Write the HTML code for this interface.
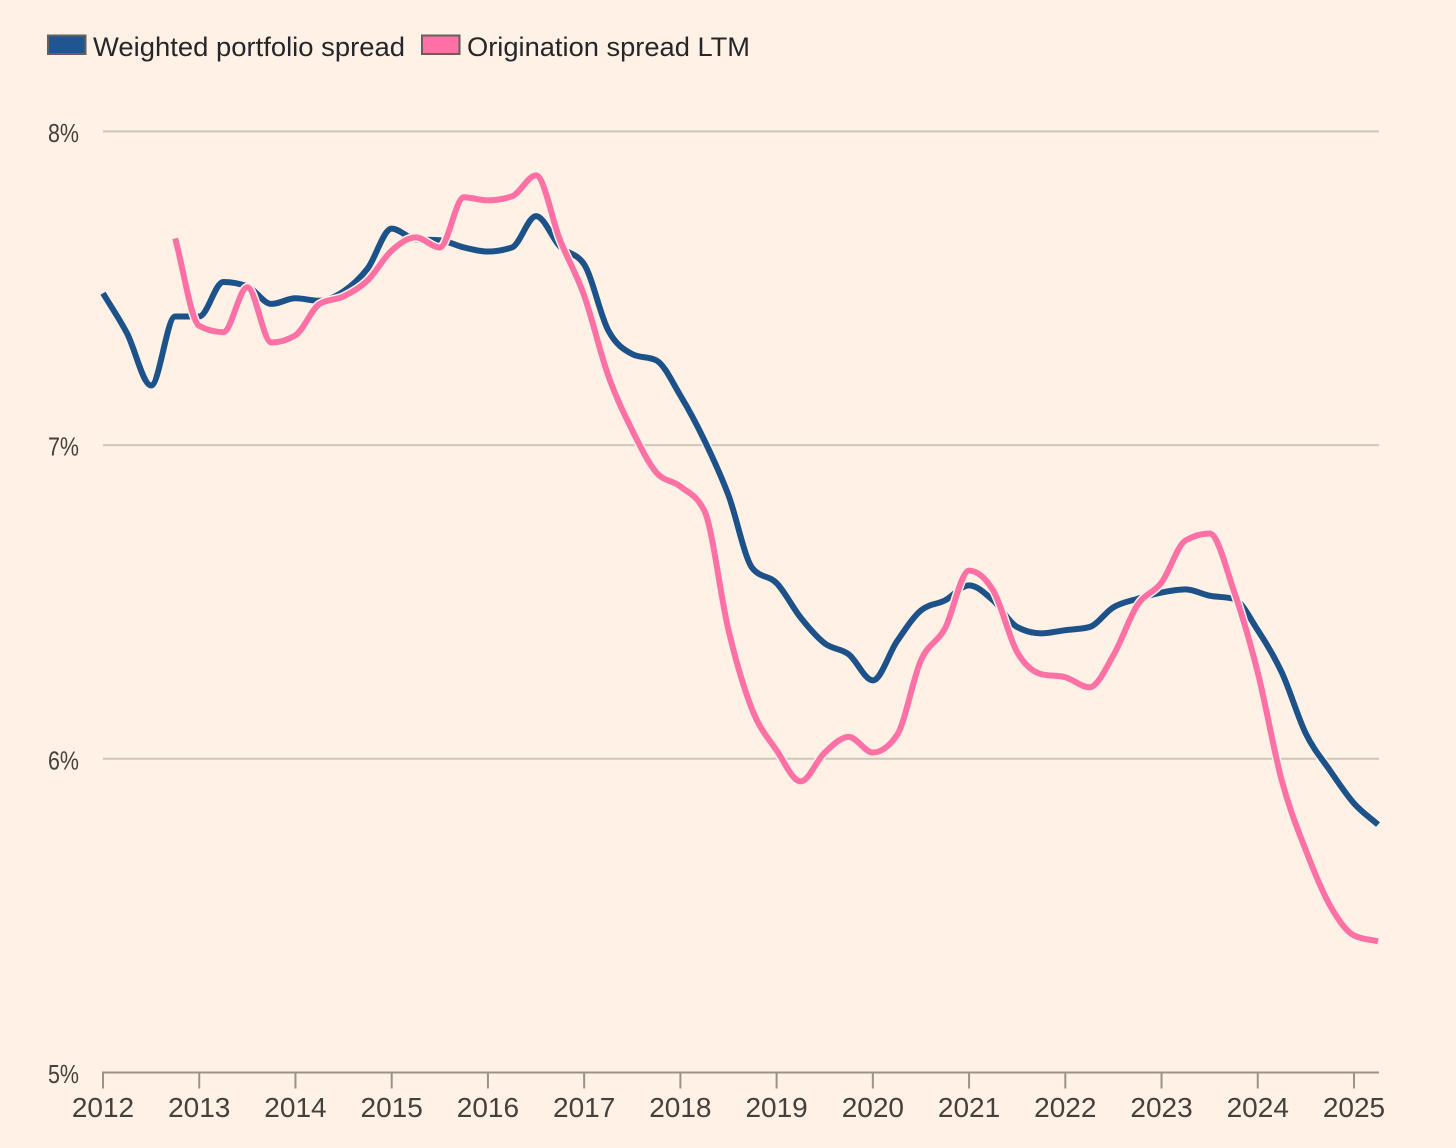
<!DOCTYPE html>
<html lang="en">
<head>
<meta charset="utf-8">
<title>Portfolio and origination spreads</title>
<style>
html,body{margin:0;padding:0;background:#fff1e5;}
body{width:1456px;height:1148px;overflow:hidden;}
svg{display:block;font-family:"Liberation Sans",sans-serif;}
</style>
</head>
<body>
<svg id="chart" width="1456" height="1148" viewBox="0 0 1456 1148" xmlns="http://www.w3.org/2000/svg">
  <rect x="0" y="0" width="1456" height="1148" fill="#fff1e5"/>
  <g>
    <g>
      <rect x="48" y="35.5" width="37.5" height="18.5" fill="#1f5590" stroke="#66605c" stroke-width="2"/>
      <text x="93" y="56" font-size="27" fill="#26262a" textLength="312" lengthAdjust="spacingAndGlyphs">Weighted portfolio spread</text>
    </g>
    <g>
      <rect x="422" y="35.5" width="37.5" height="18.5" fill="#ff71a5" stroke="#66605c" stroke-width="2"/>
      <text x="467" y="56" font-size="27" fill="#26262a" textLength="283" lengthAdjust="spacingAndGlyphs">Origination spread LTM</text>
    </g>
  </g>
  <g id="grid"></g>
  <g id="yaxis"></g>
  <g id="xaxis"></g>
  <g id="series"></g>
</svg>
<script>
const yTicks = [5, 6, 7, 8];
const xYears = [2012, 2013, 2014, 2015, 2016, 2017, 2018, 2019, 2020, 2021, 2022, 2023, 2024, 2025];
const startYear = 2012;
const stepYears = 0.25;
const weightedValues = [
  7.484, 7.356, 7.19, 7.41,
  7.41, 7.52, 7.506, 7.45,
  7.468, 7.46, 7.49, 7.563,
  7.69, 7.656, 7.653, 7.63,
  7.617, 7.63, 7.73, 7.633,
  7.576, 7.366, 7.29, 7.27,
  7.158, 7.015, 6.84, 6.607,
  6.56, 6.45, 6.368, 6.333,
  6.25, 6.374, 6.473, 6.505,
  6.553, 6.505, 6.42, 6.40,
  6.41, 6.42, 6.483, 6.51,
  6.53, 6.54, 6.52, 6.51,
  6.41, 6.275, 6.08, 5.963,
  5.858, 5.79
];
const originationValues = [
  null, null, null, 7.659,
  7.38, 7.36, 7.503, 7.327,
  7.35, 7.45, 7.474, 7.525,
  7.62, 7.662, 7.63, 7.79,
  7.78, 7.793, 7.86, 7.653,
  7.477, 7.222, 7.047, 6.913,
  6.868, 6.79, 6.41, 6.154,
  6.027, 5.928, 6.02, 6.07,
  6.02, 6.075, 6.314, 6.416,
  6.6, 6.537, 6.34, 6.27,
  6.26, 6.228, 6.33, 6.49,
  6.562, 6.696, 6.718, 6.537,
  6.275, 5.93, 5.708, 5.533,
  5.437, 5.418
];

const NS = 'http://www.w3.org/2000/svg';
function xScale(year) { return 103 + (year - 2012) * 96.23; }
function yScale(v) { return 1072.5 - (v - 5) * 313.7; }

function make(tag, attrs, parent) {
  const el = document.createElementNS(NS, tag);
  for (const k in attrs) el.setAttribute(k, attrs[k]);
  parent.appendChild(el);
  return el;
}

/* Monotone-X cubic through the scaled data points */
function monotonePath(pts) {
  const n = pts.length;
  const dx = [], m = [], t = [];
  for (let i = 0; i < n - 1; i++) {
    dx[i] = pts[i + 1][0] - pts[i][0];
    m[i] = (pts[i + 1][1] - pts[i][1]) / dx[i];
  }
  t[0] = m[0];
  t[n - 1] = m[n - 2];
  for (let i = 1; i < n - 1; i++) {
    if (m[i - 1] * m[i] <= 0) { t[i] = 0; continue; }
    const p = (m[i - 1] * dx[i] + m[i] * dx[i - 1]) / (dx[i - 1] + dx[i]);
    t[i] = (Math.sign(m[i - 1]) + Math.sign(m[i])) *
      Math.min(Math.abs(m[i - 1]), Math.abs(m[i]), 0.5 * Math.abs(p));
  }
  let d = 'M' + pts[0][0].toFixed(2) + ',' + pts[0][1].toFixed(2);
  for (let i = 0; i < n - 1; i++) {
    const h = dx[i] / 3;
    d += 'C' + (pts[i][0] + h).toFixed(2) + ',' + (pts[i][1] + t[i] * h).toFixed(2) +
      ' ' + (pts[i + 1][0] - h).toFixed(2) + ',' + (pts[i + 1][1] - t[i + 1] * h).toFixed(2) +
      ' ' + pts[i + 1][0].toFixed(2) + ',' + pts[i + 1][1].toFixed(2);
  }
  return d;
}

function seriesPoints(values) {
  const pts = [];
  values.forEach(function (v, i) {
    if (v !== null) pts.push([xScale(startYear + i * stepYears), yScale(v)]);
  });
  return pts;
}

const gridG = document.getElementById('grid');
const yAxisG = document.getElementById('yaxis');
const xAxisG = document.getElementById('xaxis');
const seriesG = document.getElementById('series');
const xEnd = 1379;

yTicks.forEach(function (t) {
  const y = yScale(t);
  if (t !== 5) {
    const line = make('line', { x1: 103, x2: xEnd, y1: y, y2: y, stroke: '#cec6b9', 'stroke-width': 2 }, gridG);
    
    
  }
  const label = make('text', { x: 48, y: y + 10.5, 'font-size': 26, fill: '#45403c', textLength: 31, lengthAdjust: 'spacingAndGlyphs' }, yAxisG);
  label.textContent = t + '%';
  
  
});

const axisLine = make('line', { x1: 102, x2: xEnd, y1: yScale(5), y2: yScale(5), stroke: '#9a9187', 'stroke-width': 2 }, xAxisG);



xYears.forEach(function (yr) {
  const x = xScale(yr);
  const tick = make('line', { x1: x, x2: x, y1: yScale(5), y2: yScale(5) + 16, stroke: '#9a9187', 'stroke-width': 2 }, xAxisG);
  
  
  const label = make('text', { x: x, y: 1117, 'font-size': 28, fill: '#45403c', 'text-anchor': 'middle' }, xAxisG);
  label.textContent = String(yr);
  
  
});

function drawSeries(values, color, name) {
  const d = monotonePath(seriesPoints(values));
  const halo = make('path', { d: d, fill: 'none', stroke: '#fff1e5', 'stroke-width': 9, 'stroke-linejoin': 'round' }, seriesG);
  
  
  const line = make('path', { d: d, fill: 'none', stroke: color, 'stroke-width': 6, 'stroke-linejoin': 'round' }, seriesG);
  
  
}

drawSeries(weightedValues, '#1c5289', 'weighted-portfolio-spread-line');
drawSeries(originationValues, '#ff71a5', 'origination-spread-line');
</script>
</body>
</html>
